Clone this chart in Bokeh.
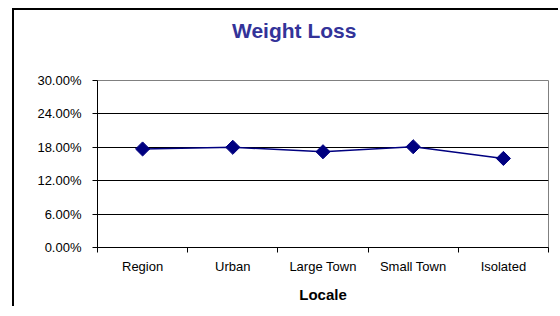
from bokeh.plotting import figure
from bokeh.models import Range1d, FixedTicker, NumeralTickFormatter, Div
from bokeh.layouts import column
from bokeh.embed import file_html
from bokeh.resources import INLINE
import math

categories = ["Region", "Urban", "Large Town", "Small Town", "Isolated"]
weight_loss = [0.177, 0.180, 0.172, 0.181, 0.160]
y_ticks = [0.0, 0.06, 0.12, 0.18, 0.24, 0.30]
title_text = "Weight Loss"

n = len(categories)
xs = [i + 0.5 for i in range(n)]

title = Div(text=title_text, width=544, height=40, margin=0,
            styles={"font-family": "Liberation Sans", "font-size": "21px", "font-weight": "bold",
                    "color": "#333399", "line-height": "42px", "padding-left": "218px",
                    "white-space": "nowrap"})

p = figure(frame_width=451, frame_height=167, output_backend="svg", toolbar_location=None,
           x_range=Range1d(0, n), y_range=Range1d(0, 0.30),
           min_border_left=83, min_border_right=10, min_border_top=30, min_border_bottom=59)
p.background_fill_color = "white"
p.border_fill_color = "white"
p.outline_line_color = "#808080"
p.outline_line_width = 1

# x axis: category labels at centers, tick marks at boundaries
xa = p.xaxis[0]
xa.ticker = FixedTicker(ticks=xs, minor_ticks=list(range(n + 1)))
xa.major_label_overrides = {x: c for x, c in zip(xs, categories)}
xa.major_tick_in = 0
xa.major_tick_out = 0
xa.minor_tick_in = 0
xa.minor_tick_out = 5
xa.minor_tick_line_color = "black"
xa.axis_line_color = "black"
xa.major_label_text_font = "Liberation Sans"
xa.major_label_text_font_size = "13px"
xa.major_label_text_color = "black"
xa.major_label_standoff = 6
xa.axis_label = "Locale"
xa.axis_label_text_font = "Liberation Sans"
xa.axis_label_text_font_size = "15px"
xa.axis_label_text_font_style = "bold"
xa.axis_label_text_color = "black"
xa.axis_label_standoff = 9

ya = p.yaxis[0]
ya.ticker = FixedTicker(ticks=y_ticks, minor_ticks=[])
ya.formatter = NumeralTickFormatter(format="0.00%")
ya.major_tick_in = 0
ya.major_tick_out = 5
ya.major_tick_line_color = "black"
ya.axis_line_color = "black"
ya.major_label_text_font = "Liberation Sans"
ya.major_label_text_font_size = "13px"
ya.major_label_text_color = "black"
ya.major_label_standoff = 11

p.xgrid.visible = False
p.ygrid.ticker = FixedTicker(ticks=y_ticks)
p.ygrid.grid_line_color = "black"
p.ygrid.grid_line_width = 1

p.line(xs, weight_loss, line_color="#000080", line_width=1.5)
p.scatter(xs, weight_loss, marker="square", angle=math.pi / 4, size=10,
          fill_color="#000080", line_color="#000080")

layout = column(title, p, spacing=0,
                styles={"margin-left": "12px", "margin-top": "8px", "background": "white",
                        "border-left": "2px solid #000", "border-top": "2px solid #000"})

open("out.html", "w").write(file_html(layout, INLINE))
